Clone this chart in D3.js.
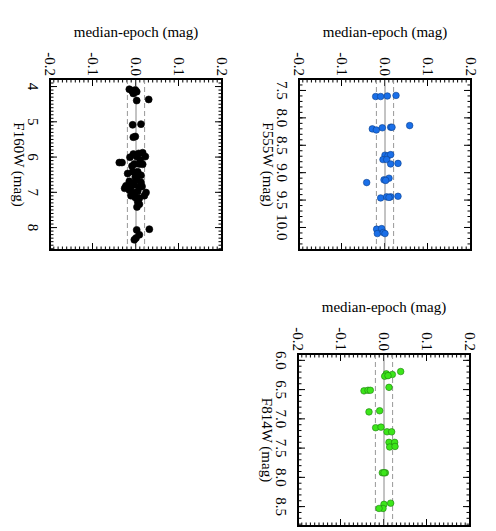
<!DOCTYPE html>
<html>
<head>
<meta charset="utf-8">
<script src="https://cdn.jsdelivr.net/npm/d3@7"></script>
<style>
  body { margin: 0; background: #fff; }
  svg { display: block; font-family: "Liberation Serif", "Times New Roman", serif; }
</style>
</head>
<body>
<svg width="496" height="531"></svg>
<script>
(function (d3) {
  'use strict';

  // median-epoch differences vs magnitude
  const f160Mag = [4.09, 4.13, 4.11, 4.21, 4.16, 4.41, 4.38, 5.10, 5.08, 5.45, 5.43,
    5.93, 5.91, 5.89, 6.00, 6.00, 6.02, 6.10, 6.17, 6.17, 6.21, 6.21, 6.22, 6.27,
    6.48, 6.43, 6.43, 6.53, 6.58, 6.66, 6.70, 6.73, 6.76, 6.83, 6.85, 6.80, 6.87,
    6.85, 6.90, 6.95, 7.02, 6.99, 7.02, 7.11, 7.11, 7.16, 7.18, 7.28, 7.35, 7.43,
    8.06, 8.08, 8.22, 8.36, 8.31];
  const f160Diff = [-0.0155, -0.0093, -0.0016, -0.0062, 0.0016, 0.0016, 0.0295, -0.0078, 0.0116, -0.0062, -0.0016,
    -0.0062, 0.0062, 0.0155, 0.0217, 0.0016, -0.014, 0.0101, -0.0388, -0.0326, -0.0039, 0.0078, 0.0155, -0.0093,
    -0.0194, -0.0078, 0.0039, 0.0116, -0.0016, 0.0016, -0.0155, 0.0116, -0.0078, -0.0233, -0.0116, -0.0039, 0.0078,
    0.014, -0.0264, -0.0155, -0.0062, 0.0039, 0.0233, 0.0194, -0.0116, -0.0016, 0.0078, 0.0039, 0.0078, 0.0023,
    0.031, 0.0016, 0.0078, -0.0039, 0.0];

  const f555Mag = [7.62, 7.62, 7.61, 7.60, 8.21, 8.23, 8.19, 8.18, 8.18, 8.15,
    8.69, 8.70, 8.68, 8.77, 8.77, 8.85, 8.84, 9.19, 9.14, 9.11, 9.15,
    9.47, 9.45, 9.45, 9.46, 9.44, 10.04, 10.03, 10.12, 10.10, 10.12];
  const f555Diff = [-0.0217, -0.0101, 0.0054, 0.0256, -0.0295, -0.0202, -0.0062, 0.0132, 0.0163, 0.0574,
    0.0, 0.007, 0.0132, -0.0047, 0.0039, 0.0132, 0.0302, -0.0426, -0.0023, 0.0093, 0.0016,
    -0.0101, 0.0039, 0.0132, 0.0093, 0.0302, -0.0194, -0.0078, -0.0178, -0.0039, 0.0];

  const f814Mag = [6.20, 6.24, 6.25, 6.28, 6.27, 6.47, 6.53, 6.52, 6.52, 6.87, 6.89,
    7.16, 7.15, 7.23, 7.23, 7.41, 7.41, 7.49, 7.48, 7.93, 7.93, 7.93,
    8.45, 8.47, 8.54, 8.54];
  const f814Diff = [0.0388, 0.0054, 0.0194, 0.0016, 0.0093, 0.0116, -0.0465, -0.0372, -0.0318, -0.0101, -0.0349,
    -0.0194, -0.007, 0.007, 0.0178, 0.0116, 0.0248, 0.0132, 0.0256, -0.0039, 0.0031, 0.0,
    0.0155, 0.0, -0.0023, -0.0116];

  const diffTicks = [-0.2, -0.1, 0.0, 0.1, 0.2];
  const f160Ticks = [4, 5, 6, 7, 8];
  const f555Ticks = [7.5, 8.0, 8.5, 9.0, 9.5, 10.0];
  const f814Ticks = [6.0, 6.5, 7.0, 7.5, 8.0, 8.5];

  const panels = [
    { name: 'F160W (mag)', mag: f160Mag, diff: f160Diff, ticks: f160Ticks, digits: 0,
      domain: [3.8, 8.65], left: 50, top: 79, w: 172, h: 171, fill: '#000', stroke: '#000' },
    { name: 'F555W (mag)', mag: f555Mag, diff: f555Diff, ticks: f555Ticks, digits: 1,
      domain: [7.3, 10.42], left: 299, top: 79, w: 172, h: 171, fill: '#1a6fe8', stroke: '#0b3f8c' },
    { name: 'F814W (mag)', mag: f814Mag, diff: f814Diff, ticks: f814Ticks, digits: 1,
      domain: [5.9, 8.84], left: 298, top: 354, w: 172, h: 172, fill: '#3ce61a', stroke: '#1f7a10' }
  ];

  const svg = d3.select('svg');

  // each panel is drawn upright, then turned 90 degrees clockwise like the original figure
  const drawPanel = (p) => {
    const g = svg.append('g')
      .attr('transform', `translate(${p.left + p.w},${p.top}) rotate(90)`);

    const xScale = d3.scaleLinear().domain(p.domain).range([0, p.h]);
    const yScale = d3.scaleLinear().domain([-0.2, 0.2]).range([p.w, 0]);

    const magMinor = d3.range(Math.ceil(p.domain[0] * 10), Math.floor(p.domain[1] * 10) + 1)
      .map(d => d / 10);
    const diffMinor = d3.range(-20, 21).map(d => d / 100);

    const clean = sel => {
      sel.selectAll('.domain').remove();
      sel.selectAll('line').attr('stroke', '#000').attr('stroke-width', 1);
    };

    // minor ticks on all four sides
    g.append('g').attr('transform', `translate(0,${p.w})`)
      .call(d3.axisBottom(xScale).tickValues(magMinor).tickSize(-3.5).tickFormat(''))
      .call(clean);
    g.append('g')
      .call(d3.axisTop(xScale).tickValues(magMinor).tickSize(-3.5).tickFormat(''))
      .call(clean);
    g.append('g')
      .call(d3.axisLeft(yScale).tickValues(diffMinor).tickSize(-3.5).tickFormat(''))
      .call(clean);
    g.append('g').attr('transform', `translate(${p.h},0)`)
      .call(d3.axisRight(yScale).tickValues(diffMinor).tickSize(-3.5).tickFormat(''))
      .call(clean);

    // major ticks
    g.append('g').attr('transform', `translate(0,${p.w})`)
      .call(d3.axisBottom(xScale).tickValues(p.ticks).tickSize(-7).tickPadding(11)
        .tickFormat(d => d.toFixed(p.digits)))
      .call(clean);
    g.append('g')
      .call(d3.axisTop(xScale).tickValues(p.ticks).tickSize(-7).tickFormat(''))
      .call(clean);
    g.append('g')
      .call(d3.axisLeft(yScale).tickValues(diffTicks).tickSize(-7).tickPadding(3)
        .tickFormat(d => d.toFixed(1)))
      .call(clean);
    g.append('g').attr('transform', `translate(${p.h},0)`)
      .call(d3.axisRight(yScale).tickValues(diffTicks).tickSize(-7).tickFormat(''))
      .call(clean);

    g.selectAll('.tick text')
      .attr('font-family', '"Liberation Serif", serif')
      .attr('font-size', 15)
      .attr('fill', '#000');

    // zero line and +-0.02 band
    g.append('line')
      .attr('x1', 0).attr('x2', p.h)
      .attr('y1', yScale(0)).attr('y2', yScale(0))
      .attr('stroke', '#888').attr('stroke-width', 1);
    [-0.02, 0.02].forEach(v => {
      g.append('line')
        .attr('x1', 0).attr('x2', p.h)
        .attr('y1', yScale(v)).attr('y2', yScale(v))
        .attr('stroke', '#999').attr('stroke-width', 1)
        .attr('stroke-dasharray', '5,3');
    });

    g.selectAll('circle')
      .data(p.mag.map((m, i) => ({ m, d: p.diff[i] })))
      .enter().append('circle')
        .attr('cx', d => xScale(d.m))
        .attr('cy', d => yScale(d.d))
        .attr('r', p.fill === '#000' ? 3.5 : 3.3)
        .attr('fill', p.fill)
        .attr('stroke', p.stroke)
        .attr('stroke-width', 0.6);

    g.append('rect')
      .attr('width', p.h).attr('height', p.w)
      .attr('fill', 'none')
      .attr('stroke', '#000').attr('stroke-width', 2);

    g.append('text')
      .attr('x', p.h / 2)
      .attr('y', p.w + 36)
      .attr('text-anchor', 'middle')
      .attr('font-size', 15)
      .text(p.name);

    g.append('text')
      .attr('transform', `translate(-42,${p.w / 2}) rotate(-90)`)
      .attr('text-anchor', 'middle')
      .attr('font-size', 15)
      .text('median-epoch (mag)');
  };

  panels.forEach(drawPanel);

}(d3));
</script>
</body>
</html>
